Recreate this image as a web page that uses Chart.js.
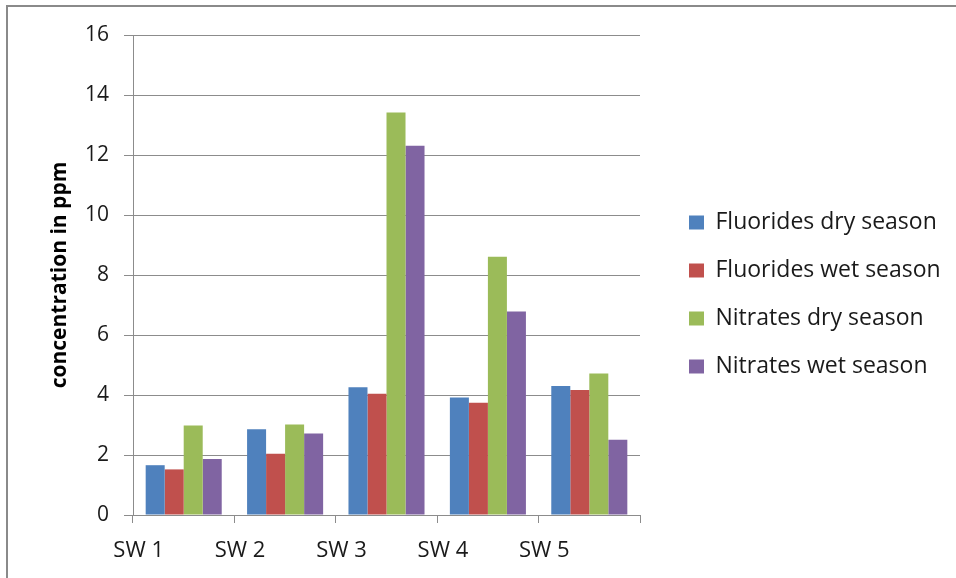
<!DOCTYPE html>
<html>
<head>
<meta charset="utf-8">
<script src="https://cdn.jsdelivr.net/npm/chart.js@4/dist/chart.umd.min.js"></script>
<style>
  html, body { margin: 0; padding: 0; background: #fff; }
  #wrap { position: relative; width: 956px; height: 578px; }
  #frame {
    position: absolute; left: 6px; top: 5px; right: 0; bottom: 0;
    border-top: 2px solid #8a8a8a; border-left: 2px solid #8a8a8a;
    pointer-events: none;
  }
  canvas { position: absolute; left: 0; top: 0; }
</style>
</head>
<body>
<div id="wrap">
  <canvas id="chart" width="956" height="578"></canvas>
  <div id="frame"></div>
</div>
<script>
const sites = ['SW 1', 'SW 2', 'SW 3', 'SW 4', 'SW 5'];
const fluoridesDry = [1.66, 2.86, 4.26, 3.92, 4.30];
const fluoridesWet = [1.52, 2.04, 4.04, 3.74, 4.17];
const nitratesDry = [2.98, 3.02, 13.42, 8.61, 4.72];
const nitratesWet = [1.87, 2.72, 12.31, 6.78, 2.51];
const yTicks = [0, 2, 4, 6, 8, 10, 12, 14, 16];

const font = "'Open Sans', Lato, sans-serif";
const gridColor = '#8c8c8c';

// legend sits in a fixed-width column, its entries pushed right of the box edge
const legendColumn = {
  id: 'legendColumn',
  beforeLayout(chart) {
    const legend = chart.legend;
    if (legend && !legend.columnPatched) {
      const fit = legend.fit.bind(legend);
      legend.fit = function () {
        fit();
        this.width = 316;
      };
      legend.columnPatched = true;
    }
  },
  afterLayout(chart) {
    const legend = chart.legend;
    legend.left += 24;
    legend.right += 24;
    legend.top -= 12;
    legend.bottom -= 12;
  },
};

function series(label, data, color) {
  return {
    label,
    data,
    backgroundColor: color,
    borderWidth: 0,
    categoryPercentage: 0.75,
    barPercentage: 1,
  };
}

new Chart(document.getElementById('chart'), {
  type: 'bar',
  data: {
    labels: sites,
    datasets: [
      series('Fluorides dry season', fluoridesDry, '#4f81bd'),
      series('Fluorides wet season', fluoridesWet, '#c0504d'),
      series('Nitrates dry season', nitratesDry, '#9bbb59'),
      series('Nitrates wet season', nitratesWet, '#8064a2'),
    ],
  },
  plugins: [legendColumn],
  options: {
    responsive: false,
    animation: false,
    layout: { padding: { top: 35, right: 0, bottom: 0, left: 0 } },
    plugins: {
      tooltip: { enabled: false },
      legend: {
        position: 'right',
        align: 'center',
        labels: {
          color: '#1a1a1a',
          font: { family: font, size: 23 },
          boxWidth: 15,
          boxHeight: 14,
          padding: 25,
        },
      },
    },
    scales: {
      x: {
        offset: true,
        grid: {
          offset: true,
          drawOnChartArea: false,
          color: gridColor,
          tickLength: 8,
        },
        border: { color: gridColor },
        ticks: {
          color: '#1a1a1a',
          font: { family: font, size: 22 },
          labelOffset: -45,
          padding: 15,
          maxRotation: 0,
        },
        afterFit: (scale) => { scale.height = 63; },
      },
      y: {
        min: 0,
        max: 16,
        afterBuildTicks: (scale) => { scale.ticks = yTicks.map((value) => ({ value })); },
        grid: { color: gridColor, tickLength: 9 },
        border: { color: gridColor },
        ticks: {
          color: '#1a1a1a',
          font: { family: font, size: 21 },
          padding: 15,
        },
        title: {
          display: true,
          text: 'concentration in ppm',
          color: '#000',
          font: { family: font, size: 21, weight: 'bold' },
          padding: { top: 47, bottom: 0 },
        },
        afterFit: (scale) => { scale.width = 133; },
      },
    },
  },
});
</script>
</body>
</html>
